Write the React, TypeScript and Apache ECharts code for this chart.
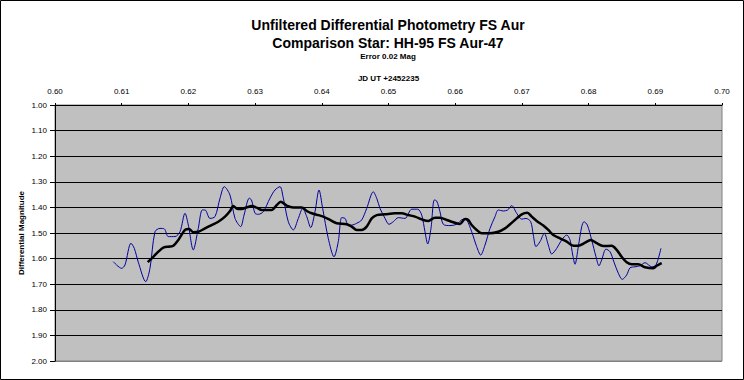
import React, { useEffect, useRef } from "react";
import * as echarts from "echarts";

const titleLines = ["Unfiltered Differential Photometry FS Aur", "Comparison Star: HH-95 FS Aur-47"];
const subTitle = "Error 0.02 Mag";
const xAxisName = "JD UT +2452235";
const yAxisName = "Differential Magnitude";

const blueX = [
  0.60874, 0.61, 0.61049, 0.61139, 0.61189, 0.61249, 0.6136, 0.61424, 0.61499, 0.61574,
  0.61639, 0.61699, 0.61799, 0.61874, 0.61949, 0.61999, 0.62073, 0.62148, 0.62208, 0.62249,
  0.62324, 0.62399, 0.62474, 0.62538, 0.62624, 0.62699, 0.62784, 0.62834, 0.62913, 0.62946,
  0.62999, 0.63048, 0.63123, 0.63223, 0.63298, 0.63373, 0.63423, 0.63498, 0.63573, 0.63648,
  0.63714, 0.63774, 0.63834, 0.63898, 0.63958, 0.64013, 0.64097, 0.64183, 0.64247, 0.64298,
  0.64348, 0.64397, 0.64448, 0.64523, 0.64598, 0.64673, 0.64772, 0.64823, 0.64873, 0.64948,
  0.65007, 0.65072, 0.65147, 0.65247, 0.65348, 0.65438, 0.65498, 0.65547, 0.65588, 0.65637,
  0.65687, 0.65723, 0.65772, 0.65822, 0.65922, 0.66022, 0.66121, 0.66172, 0.66247, 0.66322,
  0.66382, 0.66447, 0.66522, 0.66597, 0.66646, 0.66721, 0.66787, 0.66847, 0.66922, 0.66997,
  0.67061, 0.67132, 0.67171, 0.67211, 0.67271, 0.67336, 0.67396, 0.67447, 0.67522, 0.67597,
  0.67672, 0.67721, 0.67762, 0.67796, 0.67846, 0.67897, 0.67931, 0.67981, 0.68046, 0.68111,
  0.68156, 0.68196, 0.68261, 0.68321, 0.68381, 0.68445, 0.68505, 0.68571, 0.68621, 0.68696,
  0.68771, 0.68846, 0.68946, 0.6901, 0.69085,
];
const blueMag = [
  1.612, 1.638, 1.625, 1.54, 1.56, 1.614, 1.69, 1.638, 1.495, 1.482,
  1.484, 1.514, 1.514, 1.495, 1.423, 1.469, 1.566, 1.482, 1.41, 1.41,
  1.443, 1.436, 1.364, 1.319, 1.352, 1.443, 1.475, 1.43, 1.364, 1.371,
  1.423, 1.427, 1.417, 1.364, 1.332, 1.319, 1.364, 1.456, 1.488, 1.443,
  1.404, 1.436, 1.479, 1.417, 1.332, 1.404, 1.521, 1.593, 1.534, 1.44,
  1.443, 1.469, 1.469, 1.462, 1.449, 1.404, 1.339, 1.364, 1.404, 1.443,
  1.466, 1.456, 1.44, 1.443, 1.407, 1.407, 1.43, 1.495, 1.543, 1.482,
  1.371, 1.375, 1.417, 1.466, 1.471, 1.466, 1.446, 1.449, 1.495, 1.553,
  1.586, 1.547, 1.482, 1.436, 1.41, 1.414, 1.41, 1.393, 1.423, 1.446,
  1.443, 1.456, 1.508, 1.553, 1.534, 1.501, 1.547, 1.582, 1.56, 1.527,
  1.508, 1.527, 1.586, 1.622, 1.553, 1.475, 1.456, 1.469, 1.527, 1.593,
  1.628, 1.605, 1.563, 1.573, 1.614, 1.657, 1.681, 1.664, 1.636, 1.632,
  1.628, 1.616, 1.632, 1.625, 1.56,
];

const avgX = [
  0.6139, 0.61474, 0.61549, 0.61624, 0.61724, 0.61774, 0.61849, 0.61949, 0.62009, 0.62073,
  0.62148, 0.62249, 0.62349, 0.62448, 0.62549, 0.62624, 0.62673, 0.62739, 0.62799, 0.62874,
  0.62949, 0.63024, 0.63099, 0.63249, 0.63324, 0.63384, 0.63474, 0.63573, 0.63699, 0.63774,
  0.63849, 0.63948, 0.64022, 0.64123, 0.64223, 0.64373, 0.64448, 0.64523, 0.64598, 0.64673,
  0.64748, 0.64823, 0.64948, 0.65097, 0.65198, 0.65297, 0.65397, 0.65522, 0.65597, 0.65697,
  0.65772, 0.65873, 0.65972, 0.66072, 0.66147, 0.66196, 0.66247, 0.66322, 0.66397, 0.66522,
  0.66646, 0.66747, 0.66822, 0.66922, 0.66997, 0.67081, 0.67147, 0.67222, 0.67321, 0.67396,
  0.67471, 0.67571, 0.67672, 0.67771, 0.67846, 0.67946, 0.68031, 0.68121, 0.6822, 0.68346,
  0.68421, 0.68496, 0.68571, 0.68646, 0.68745, 0.68846, 0.6897, 0.69021, 0.69096,
];
const avgMag = [
  1.614, 1.593, 1.573, 1.557, 1.553, 1.55, 1.527, 1.488, 1.484, 1.497,
  1.495, 1.482, 1.469, 1.456, 1.436, 1.414, 1.395, 1.406, 1.406, 1.4,
  1.395, 1.401, 1.41, 1.41, 1.391, 1.378, 1.393, 1.4, 1.4, 1.414,
  1.423, 1.43, 1.436, 1.449, 1.462, 1.466, 1.475, 1.488, 1.488, 1.475,
  1.443, 1.43, 1.427, 1.423, 1.423, 1.43, 1.436, 1.449, 1.453, 1.44,
  1.44, 1.449, 1.458, 1.465, 1.445, 1.449, 1.469, 1.488, 1.501, 1.501,
  1.495, 1.482, 1.466, 1.443, 1.427, 1.421, 1.436, 1.453, 1.471, 1.488,
  1.508, 1.521, 1.534, 1.55, 1.55, 1.538, 1.527, 1.54, 1.551, 1.55,
  1.566, 1.593, 1.614, 1.622, 1.622, 1.634, 1.638, 1.628, 1.618,
];

const FONT = "Liberation Sans, Arial, sans-serif";

export default function App() {
  const ref = useRef<HTMLDivElement>(null);
  useEffect(() => {
    if (!ref.current) return;
    const chart = echarts.init(ref.current, null, { renderer: "svg" });
    const splitColors = Array.from({ length: 11 }, (_, i) => (i === 10 ? "#808080" : "#000000"));
    chart.setOption({
      animation: false,
      backgroundColor: "#ffffff",
      textStyle: { fontFamily: FONT },
      title: [
        {
          text: titleLines[0],
          left: 388,
          top: 18,
          padding: 0,
          textAlign: "center",
          textStyle: { fontFamily: FONT, fontSize: 14, fontWeight: "bold", color: "#000" },
        },
        {
          text: titleLines[1],
          left: 388,
          top: 35.5,
          padding: 0,
          textAlign: "center",
          textStyle: { fontFamily: FONT, fontSize: 14, fontWeight: "bold", color: "#000" },
        },
        {
          text: subTitle,
          left: 388,
          top: 52.5,
          padding: 0,
          textAlign: "center",
          textStyle: { fontFamily: FONT, fontSize: 8, fontWeight: "bold", color: "#000" },
        },
      ],
      graphic: [
        {
          type: "rect",
          shape: { x: 0.5, y: 0.5, width: 743, height: 379 },
          style: { fill: "none", stroke: "#000", lineWidth: 1 },
          silent: true,
          z: 100,
        },
      ],
      grid: {
        left: 55,
        right: 22,
        top: 105,
        bottom: 19,
        show: true,
        backgroundColor: "#c0c0c0",
        borderColor: "#808080",
        borderWidth: 1,
      },
      xAxis: {
        type: "value",
        position: "top",
        min: 0.6,
        max: 0.7,
        interval: 0.01,
        name: xAxisName,
        nameLocation: "middle",
        nameGap: 23,
        nameTextStyle: { fontFamily: FONT, fontSize: 8, fontWeight: "bold", color: "#000" },
        axisLine: { show: true, lineStyle: { color: "#000", width: 1 } },
        axisTick: { show: true, length: 2, lineStyle: { color: "#000" } },
        splitLine: { show: false },
        axisLabel: {
          margin: 10,
          fontFamily: FONT,
          fontSize: 8,
          color: "#000",
          formatter: (v: number) => v.toFixed(2),
        },
      },
      yAxis: {
        type: "value",
        inverse: true,
        min: 1,
        max: 2,
        interval: 0.1,
        name: yAxisName,
        nameLocation: "middle",
        nameGap: 30,
        nameMoveOverlap: false,
        nameRotate: 90,
        nameTextStyle: { fontFamily: FONT, fontSize: 8, fontWeight: "bold", color: "#000" },
        axisLine: { show: true, lineStyle: { color: "#000", width: 1 } },
        axisTick: { show: true, length: 5, lineStyle: { color: "#000" } },
        splitLine: { show: true, lineStyle: { color: splitColors, width: 1 } },
        axisLabel: {
          margin: 8,
          fontFamily: FONT,
          fontSize: 8,
          color: "#000",
          formatter: (v: number) => v.toFixed(2),
        },
      },
      series: [
        {
          name: "Magnitude",
          type: "line",
          data: blueX.map((x, i) => [x, blueMag[i]]),
          showSymbol: false,
          symbol: "none",
          smooth: 0.3,
          lineStyle: { color: "#0000a0", width: 1 },
          z: 2,
        },
        {
          name: "Moving average",
          type: "line",
          data: avgX.map((x, i) => [x, avgMag[i]]),
          showSymbol: false,
          symbol: "none",
          smooth: 0.3,
          lineStyle: { color: "#000000", width: 2.5 },
          z: 3,
        },
      ],
    });
    return () => chart.dispose();
  }, []);
  return (
    <div
      ref={ref}
      style={{ position: "fixed", left: 0, top: 0, width: 744, height: 380 }}
    />
  );
}
